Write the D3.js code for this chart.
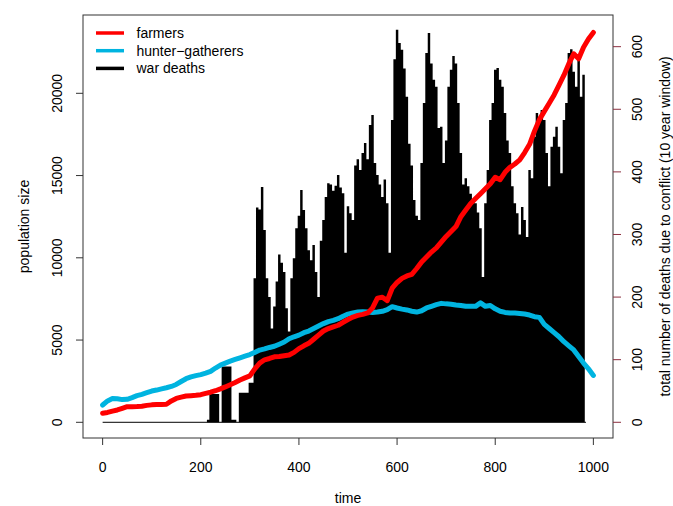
<!DOCTYPE html>
<html>
<head>
<meta charset="utf-8">
<script src="https://cdn.jsdelivr.net/npm/d3@7"></script>
<style>
  body { margin: 0; background: #fff; }
  text { font-family: "Liberation Sans", Arial, sans-serif; font-size: 14px; fill: #000; }
</style>
</head>
<body>
<div class="chart"></div>
<script>
// population, sampled every 10 years
var popTimes = d3.range(0, 1001, 10);
var farmers = [550, 600, 680, 750, 850, 950, 950, 960, 980, 1030,
    1060, 1080, 1080, 1100, 1300, 1450, 1530, 1600, 1620, 1640,
    1680, 1760, 1830, 1920, 2030, 2150, 2280, 2420, 2570, 2700,
    2820, 3250, 3600, 3800, 3880, 3980, 4000, 4050, 4090, 4250,
    4480, 4650, 4800, 5050, 5300, 5550, 5700, 5800, 5900, 6080,
    6250, 6400, 6500, 6560, 6650, 6950, 7550, 7600, 7400, 8150,
    8500, 8750, 8900, 9000, 9350, 9750, 10050, 10350, 10600, 10950,
    11300, 11600, 11900, 12500, 12900, 13300, 13600, 13900, 14200, 14500,
    14900, 14750, 15200, 15500, 15700, 15950, 16400, 16900, 17700, 18400,
    18900, 19400, 19900, 20500, 21100, 21800, 22400, 22100, 22800, 23300,
    23700];
var hunters = [1050, 1300, 1450, 1430, 1380, 1400, 1500, 1620, 1700, 1800,
    1900, 1960, 2030, 2100, 2180, 2300, 2480, 2650, 2760, 2840,
    2900, 2990, 3100, 3300, 3480, 3600, 3720, 3820, 3920, 4020,
    4120, 4250, 4390, 4460, 4550, 4620, 4750, 4880, 5080, 5200,
    5300, 5450, 5550, 5700, 5850, 6000, 6120, 6200, 6300, 6450,
    6580, 6650, 6700, 6720, 6700, 6680, 6700, 6750, 6850, 7030,
    6950, 6880, 6830, 6750, 6700, 6780, 6950, 7050, 7150, 7230,
    7200, 7180, 7130, 7100, 7050, 7060, 7050, 7260, 7050, 7100,
    6900, 6750, 6680, 6650, 6640, 6620, 6580, 6520, 6420, 6380,
    5950, 5700, 5450, 5200, 4900, 4650, 4400, 4000, 3600, 3250,
    2850];

// war deaths (10 year window), every 5 years from year 215 to 980
var deathTimes = d3.range(215, 981, 5);
var deaths = [4, 45, 45, 45, 45, 0, 89, 89, 89, 89,
    4, 4, 0, 47, 47, 47, 47, 63, 63, 230,
    343, 340, 376, 307, 230, 200, 150, 185, 225, 268,
    255, 240, 182, 145, 230, 262, 310, 330, 371, 339,
    310, 275, 259, 283, 240, 200, 290, 323, 360, 382,
    380, 370, 378, 395, 375, 366, 271, 345, 334, 323,
    410, 420, 403, 430, 446, 420, 475, 491, 414, 395,
    380, 360, 388, 350, 271, 483, 580, 627, 606, 595,
    565, 520, 445, 410, 355, 330, 323, 414, 510, 590,
    622, 573, 547, 536, 470, 472, 414, 450, 536, 563,
    585, 573, 510, 430, 380, 390, 377, 365, 355, 350,
    335, 310, 232, 350, 403, 483, 510, 563, 566, 547,
    536, 494, 450, 430, 377, 350, 334, 300, 344, 323,
    296, 403, 390, 456, 494, 483, 499, 483, 430, 377,
    440, 456, 472, 440, 398, 483, 510, 590, 596, 560,
    536, 580, 520, 555];

var xTicks = [0, 200, 400, 600, 800, 1000];
var popTicks = [0, 5000, 10000, 15000, 20000];
var deathTicks = [0, 100, 200, 300, 400, 500, 600];

var legendNames = ["farmers", "hunter\u2212gatherers", "war deaths"];
var legendColors = ["#ff0000", "#00b4e0", "#000000"];

var svgWidth = 673;
var svgHeight = 506;
var box = { left: 83, right: 613, top: 15, bottom: 438 };

var svg = d3.select(".chart")
    .append("svg")
    .attr("width", svgWidth)
    .attr("height", svgHeight);

var x = d3.scaleLinear().domain([-40, 1040]).range([box.left, box.right]);
var yPop = d3.scaleLinear().domain([-954, 24760]).range([box.bottom, box.top]);
var yDeath = d3.scaleLinear().domain([-25.1, 650.6]).range([box.bottom, box.top]);

// war deaths as one stepped black area (each step = one 5 year bin)
var halfStep = 2.5;
var deathSteps = deaths.map((d, i) => ({ t: deathTimes[i] - halfStep, d: d }));
deathSteps.push({ t: deathTimes[deathTimes.length - 1] + halfStep, d: deaths[deaths.length - 1] });

svg.append("line")
    .attr("x1", x(0)).attr("x2", x(985))
    .attr("y1", yDeath(0)).attr("y2", yDeath(0))
    .attr("stroke", "#000").attr("stroke-width", 1);

var deathArea = d3.area()
    .x(d => x(d.t))
    .y0(yDeath(0))
    .y1(d => yDeath(d.d))
    .curve(d3.curveStepAfter);

svg.append("path")
    .datum(deathSteps)
    .attr("d", deathArea)
    .attr("fill", "#000");

// population lines
var line = d3.line()
    .x((d, i) => x(popTimes[i]))
    .y(d => yPop(d));

svg.append("path")
    .attr("d", line(hunters))
    .attr("fill", "none")
    .attr("stroke", legendColors[1])
    .attr("stroke-width", 5)
    .attr("stroke-linejoin", "round")
    .attr("stroke-linecap", "round");

svg.append("path")
    .attr("d", line(farmers))
    .attr("fill", "none")
    .attr("stroke", legendColors[0])
    .attr("stroke-width", 5)
    .attr("stroke-linejoin", "round")
    .attr("stroke-linecap", "round");

// box
svg.append("rect")
    .attr("x", box.left).attr("y", box.top)
    .attr("width", box.right - box.left).attr("height", box.bottom - box.top)
    .attr("fill", "none").attr("stroke", "#333").attr("stroke-width", 1);

// bottom axis
var xAxis = svg.append("g");
xAxis.selectAll("line")
    .data(xTicks).enter().append("line")
    .attr("x1", d => x(d)).attr("x2", d => x(d))
    .attr("y1", box.bottom).attr("y2", box.bottom + 7)
    .attr("stroke", "#333");
xAxis.selectAll("text")
    .data(xTicks).enter().append("text")
    .attr("x", d => x(d)).attr("y", 472)
    .attr("text-anchor", "middle")
    .text(d => d);

svg.append("text")
    .attr("x", (box.left + box.right) / 2).attr("y", 503)
    .attr("text-anchor", "middle")
    .text("time");

// left axis
var yAxisL = svg.append("g");
yAxisL.selectAll("line")
    .data(popTicks).enter().append("line")
    .attr("x1", box.left - 7).attr("x2", box.left)
    .attr("y1", d => yPop(d)).attr("y2", d => yPop(d))
    .attr("stroke", "#333");
yAxisL.selectAll("text")
    .data(popTicks).enter().append("text")
    .attr("transform", d => `translate(62, ${yPop(d)}) rotate(-90)`)
    .attr("text-anchor", "middle")
    .text(d => d);

svg.append("text")
    .attr("transform", `translate(29, ${(box.top + box.bottom) / 2}) rotate(-90)`)
    .attr("text-anchor", "middle")
    .text("population size");

// right axis
var tickRed = "#8b2f3f";
var yAxisR = svg.append("g");
yAxisR.selectAll("line")
    .data(deathTicks).enter().append("line")
    .attr("x1", box.right).attr("x2", box.right + 8)
    .attr("y1", d => yDeath(d)).attr("y2", d => yDeath(d))
    .attr("stroke", tickRed);
yAxisR.selectAll("text")
    .data(deathTicks).enter().append("text")
    .attr("transform", d => `translate(641.5, ${yDeath(d)}) rotate(-90)`)
    .attr("text-anchor", "middle")
    .text(d => d);

svg.append("text")
    .attr("transform", `translate(670, ${(box.top + box.bottom) / 2}) rotate(-90)`)
    .attr("text-anchor", "middle")
    .text("total number of deaths due to conflict (10 year window)");

// legend
var legend = svg.append("g");
legendNames.forEach(function(name, i) {
    var ly = 33 + i * 17.7;
    legend.append("line")
        .attr("x1", 96).attr("x2", 124)
        .attr("y1", ly).attr("y2", ly)
        .attr("stroke", legendColors[i])
        .attr("stroke-width", 3.5);
    legend.append("text")
        .attr("x", 136.5).attr("y", ly)
        .attr("dy", "0.36em")
        .text(name);
});
</script>
</body>
</html>
